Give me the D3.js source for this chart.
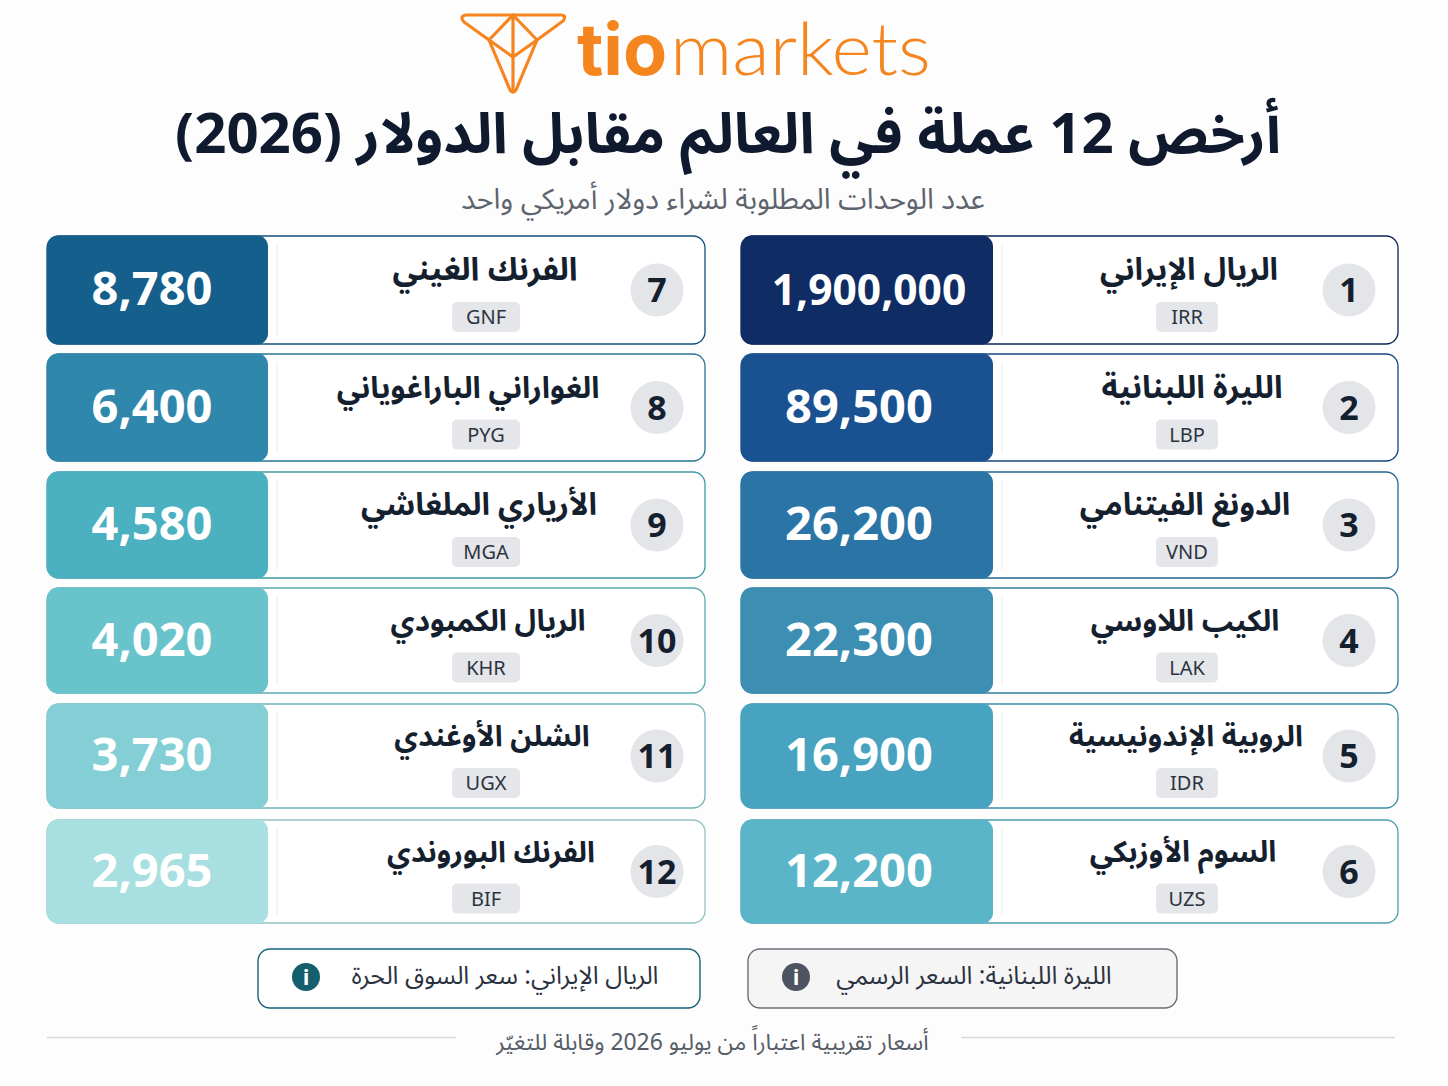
<!DOCTYPE html>
<html lang="ar">
<head>
<meta charset="utf-8">
<script src="https://cdn.jsdelivr.net/npm/d3@7"></script>
<style>
  html, body { margin: 0; background: #fdfdfd; }
  svg { display: block; }
  text { font-family: "Noto Sans Arabic", "Noto Sans", "DejaVu Sans", sans-serif; }
</style>
</head>
<body>
<svg id="chart" width="1448" height="1086"></svg>
<script>
const ranks = [1, 2, 3, 4, 5, 6, 7, 8, 9, 10, 11, 12];
const names = ['الريال الإيراني', 'الليرة اللبنانية', 'الدونغ الفيتنامي', 'الكيب اللاوسي', 'الروبية الإندونيسية', 'السوم الأوزبكي',
  'الفرنك الغيني', 'الغواراني الباراغوياني', 'الأرياري الملغاشي', 'الريال الكمبودي', 'الشلن الأوغندي', 'الفرنك البوروندي'];
const codes = ['IRR', 'LBP', 'VND', 'LAK', 'IDR', 'UZS', 'GNF', 'PYG', 'MGA', 'KHR', 'UGX', 'BIF'];
const rates = [1900000, 89500, 26200, 22300, 16900, 12200, 8780, 6400, 4580, 4020, 3730, 2965];
const panelColors = ['#0f2c64', '#1a5190', '#2b75a6', '#3c8fb3', '#47a3bf', '#5ab5c8',
  '#155f8c', '#2f87ab', '#4bb0bf', '#69c3cb', '#84cfd5', '#a8dfe0'];
const title = 'أرخص 12 عملة في العالم مقابل الدولار (2026)';
const subtitle = 'عدد الوحدات المطلوبة لشراء دولار أمريكي واحد';
const footnote = 'أسعار تقريبية اعتباراً من يوليو 2026 وقابلة للتغيّر';
const noteTexts = ['الليرة اللبنانية: السعر الرسمي', 'الريال الإيراني: سعر السوق الحرة'];

// layout tweaks per card: name size and sideways shift from the column centre
const nameSizes = [31, 31.5, 31, 29.5, 29, 29.5, 32, 30, 31, 29.5, 29, 29];
const nameShifts = [2, 5, -2, -2, -1, -4, -1, -18, -7, 2, 6, 5];
const noteStyles = [
  { x0: 748, x1: 1177, textX: 974, stroke: '#6b7078', fill: '#f5f5f6', icon: '#4d5360' },
  { x0: 258, x1: 700, textX: 505, stroke: '#17607a', fill: '#ffffff', icon: '#155e6e' }
];

const svg = d3.select('#chart');
const ink = '#15202e';

// logo
const logo = svg.append('g').attr('fill', 'none').attr('stroke', '#f5851f')
  .attr('stroke-width', 3.2).attr('stroke-linejoin', 'round').attr('stroke-linecap', 'round');
logo.append('path').attr('d', 'M466 15H561Q567 15 563 21L537 40L516 90Q513 94 510 90L489 40L464 22Q459 16 466 15Z');
logo.append('path').attr('d', 'M513 15V92M513 15L489 40L513 57L537 40L513 15');
svg.append('text').attr('x', 577).attr('y', 75).attr('fill', '#f5851f').attr('font-size', 72)
  .attr('font-weight', 700).attr('direction', 'ltr').style('font-family', 'Inter, Lato, sans-serif').text('tio');
svg.append('text').attr('x', 670).attr('y', 75).attr('fill', '#f5851f').attr('font-size', 72)
  .attr('font-weight', 300).attr('direction', 'ltr').style('font-family', 'Lato, Inter, sans-serif')
  .attr('textLength', 261).attr('lengthAdjust', 'spacingAndGlyphs').text('markets');

// headings
svg.append('text').attr('x', 728).attr('y', 153).attr('text-anchor', 'middle')
  .attr('direction', 'rtl').attr('font-size', 56.3).attr('font-weight', 700)
  .attr('fill', '#101a2e').text(title);
svg.append('text').attr('x', 723).attr('y', 209).attr('text-anchor', 'middle')
  .attr('direction', 'rtl').attr('font-size', 28.8).attr('fill', '#5d646e').text(subtitle);

// scales: the rows get a little shorter towards the bottom
const rowTop = d3.scaleLinear().domain([0, 2, 5]).range([236, 472, 820]);
const rowBottom = d3.scaleLinear().domain([0, 2, 5]).range([344, 578, 923]);
const color = d3.scaleOrdinal().domain(ranks).range(panelColors);
const fmt = d3.format(',');

const columns = [
  { x0: 741, x1: 1398, panel: 252, rankX: 1349, nameX: 1187, badge: 62, valueX: 118 },
  { x0: 47, x1: 705, panel: 221, rankX: 657, nameX: 486, badge: 68, valueX: 105 }
];
const colOf = d => columns[d <= 6 ? 0 : 1];
const rowIndex = d => (d - 1) % 6;
const bh = d => rowBottom(rowIndex(d)) - rowTop(rowIndex(d));

const rows = svg.selectAll('g.row').data(ranks).join('g').attr('class', 'row')
  .attr('transform', d => `translate(${colOf(d).x0},${rowTop(rowIndex(d))})`);

rows.append('rect').attr('width', d => colOf(d).x1 - colOf(d).x0).attr('height', bh)
  .attr('rx', 12).attr('fill', '#fff')
  .attr('stroke', d => d3.color(color(d)).darker(0.4)).attr('stroke-width', 1.3);

rows.append('rect').attr('width', d => colOf(d).panel).attr('height', d => bh(d) + 1).attr('y', -0.5)
  .attr('rx', 11).attr('fill', d => color(d));

rows.append('line').attr('x1', d => colOf(d).panel + 9).attr('x2', d => colOf(d).panel + 9)
  .attr('y1', 8).attr('y2', d => bh(d) - 8).attr('stroke', '#f1f2f3').attr('stroke-width', 1.5);

rows.append('text').attr('x', d => rates[d - 1] >= 1e6 ? 128 : colOf(d).valueX).attr('y', d => bh(d) / 2 + 15)
  .attr('text-anchor', 'middle').attr('direction', 'ltr').attr('font-size', d => rates[d - 1] >= 1e6 ? 42.5 : 47)
  .attr('font-weight', 700).attr('fill', '#fff').text(d => fmt(rates[d - 1]));

rows.append('text').attr('x', d => colOf(d).nameX - colOf(d).x0 + nameShifts[d - 1]).attr('y', d => bh(d) / 2 - 10)
  .attr('text-anchor', 'middle').attr('direction', 'rtl').attr('font-size', d => nameSizes[d - 1]).attr('font-weight', 700)
  .attr('fill', ink).text(d => names[d - 1]);

rows.append('rect').attr('x', d => colOf(d).nameX - colOf(d).x0 - colOf(d).badge / 2).attr('y', d => bh(d) / 2 + 12)
  .attr('width', d => colOf(d).badge).attr('height', 30).attr('rx', 5).attr('fill', '#e4e6e9');
rows.append('text').attr('x', d => colOf(d).nameX - colOf(d).x0).attr('y', d => bh(d) / 2 + 34)
  .attr('text-anchor', 'middle').attr('direction', 'ltr').attr('font-size', 20).attr('fill', '#2b3441')
  .text(d => codes[d - 1]);

rows.append('circle').attr('cx', d => colOf(d).rankX - colOf(d).x0).attr('cy', d => bh(d) / 2)
  .attr('r', 26.5).attr('fill', '#e4e5e8');
rows.append('text').attr('x', d => colOf(d).rankX - colOf(d).x0).attr('y', d => bh(d) / 2 + 12)
  .attr('text-anchor', 'middle').attr('direction', 'ltr').attr('font-size', 34).attr('font-weight', 700)
  .attr('fill', ink).text(d => d);

// notes
const note = svg.selectAll('g.note').data(noteTexts).join('g').attr('class', 'note');
note.append('rect').attr('x', (d, i) => noteStyles[i].x0).attr('y', 949)
  .attr('width', (d, i) => noteStyles[i].x1 - noteStyles[i].x0).attr('height', 59)
  .attr('rx', 12).attr('fill', (d, i) => noteStyles[i].fill).attr('stroke', (d, i) => noteStyles[i].stroke).attr('stroke-width', 1.4);
note.append('circle').attr('cx', (d, i) => noteStyles[i].x0 + 48).attr('cy', 977).attr('r', 14).attr('fill', (d, i) => noteStyles[i].icon);
note.append('text').attr('x', (d, i) => noteStyles[i].x0 + 48).attr('y', 985).attr('text-anchor', 'middle')
  .attr('direction', 'ltr').attr('font-size', 22).attr('font-weight', 700).attr('fill', '#fff').text('i');
note.append('text').attr('x', (d, i) => noteStyles[i].textX).attr('y', 984).attr('text-anchor', 'middle')
  .attr('direction', 'rtl').attr('font-size', 24.8).attr('fill', '#2a3240').text(d => d);

// footer
svg.selectAll('line.rule').data([[47, 456], [961, 1395]]).join('line').attr('class', 'rule')
  .attr('x1', d => d[0]).attr('x2', d => d[1]).attr('y1', 1037.5).attr('y2', 1037.5)
  .attr('stroke', '#d9dadc').attr('stroke-width', 1.5);
svg.append('text').attr('x', 712.5).attr('y', 1050).attr('text-anchor', 'middle')
  .attr('direction', 'rtl').attr('font-size', 22.9).attr('fill', '#555c66').text(footnote);
</script>
</body>
</html>
